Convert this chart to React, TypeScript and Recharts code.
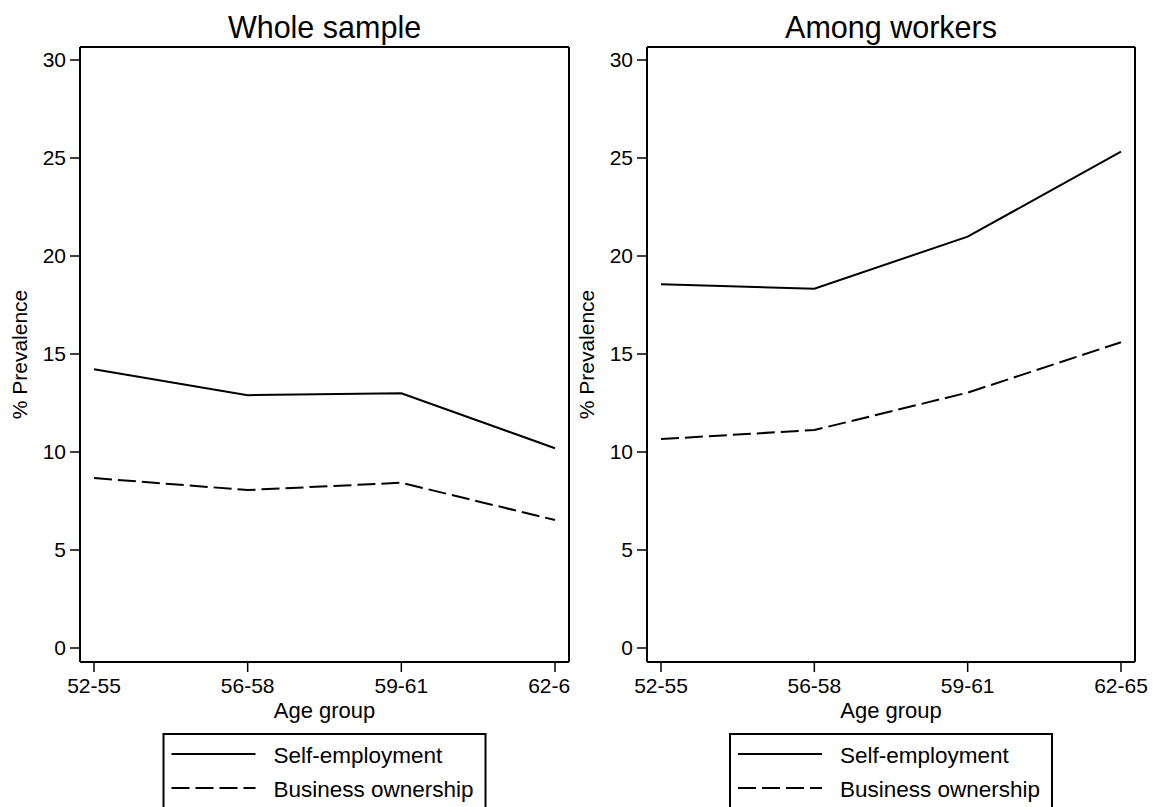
import React from 'react';
import { LineChart, Line, XAxis, YAxis } from 'recharts';

const ageGroups = ['52-55', '56-58', '59-61', '62-65'];
const wholeSelfEmployment = [14.22, 12.9, 13.0, 10.19];
const wholeBusinessOwnership = [8.67, 8.06, 8.43, 6.53];
const workersSelfEmployment = [18.56, 18.33, 20.99, 25.32];
const workersBusinessOwnership = [10.66, 11.12, 13.03, 15.6];
const yTicks = [0, 5, 10, 15, 20, 25, 30];
const seriesNames = ['Self-employment', 'Business ownership'];

const FONT = '"Liberation Sans", Arial, sans-serif';
const DASH = '18 6';

const buildRows = (selfEmp: number[], bizOwn: number[]) =>
  ageGroups.map((g, i) => ({ age: g, selfEmp: selfEmp[i], bizOwn: bizOwn[i] }));

interface PanelProps {
  title: string;
  rows: { age: string; selfEmp: number; bizOwn: number }[];
  left: number;
  clipWidth: number;
  chartWidth: number;
  rightMargin: number;
}

const Panel: React.FC<PanelProps> = ({ title, rows, left, clipWidth, chartWidth, rightMargin }) => {
  // plot area spans x 80 .. chartWidth - rightMargin
  const plotCenter = (80 + chartWidth - rightMargin) / 2;
  return (
    <div style={{ position: 'absolute', left, top: 0, width: clipWidth, height: 807, overflow: 'hidden' }}>
      <svg width={clipWidth} height={50} style={{ position: 'absolute', left: 0, top: 0 }}>
        <text x={plotCenter} y={38} textAnchor="middle" fontFamily={FONT} fontSize={30.5} fill="#000">
          {title}
        </text>
      </svg>
      <div style={{ position: 'absolute', left: 0, top: 0 }}>
        <LineChart
          width={chartWidth}
          height={740}
          data={rows}
          margin={{ top: 46, right: rightMargin - 1, left: 0, bottom: 0 }}
          style={{ fontFamily: FONT }}
        >
          <XAxis
            dataKey="age"
            height={78}
            padding={{ left: 14, right: 14 }}
            tickSize={10}
            tickMargin={6}
            tick={{ fill: '#000', fontSize: 21 }}
            axisLine={{ stroke: '#000', strokeWidth: 2 }}
            tickLine={{ stroke: '#000', strokeWidth: 1.5 }}
            interval={0}
            label={({ viewBox }: any) => (
              <text
                x={viewBox.x + viewBox.width / 2}
                y={viewBox.y + 56}
                textAnchor="middle"
                fontSize={22}
                fontFamily={FONT}
                fill="#000"
              >
                Age group
              </text>
            )}
          />
          <XAxis
            xAxisId="top"
            dataKey="age"
            orientation="top"
            height={1}
            tick={false}
            tickLine={false}
            padding={{ left: 14, right: 14 }}
            axisLine={{ stroke: '#000', strokeWidth: 2 }}
          />
          <YAxis
            width={80}
            domain={[0, 30]}
            ticks={yTicks}
            padding={{ top: 13, bottom: 14 }}
            tickSize={10}
            tickMargin={4}
            tick={{ fill: '#000', fontSize: 21 }}
            axisLine={{ stroke: '#000', strokeWidth: 2 }}
            tickLine={{ stroke: '#000', strokeWidth: 1.5 }}
            label={({ viewBox }: any) => {
              const cy = viewBox.y + viewBox.height / 2;
              return (
                <text
                  x={viewBox.x + 27}
                  y={cy}
                  transform={`rotate(-90 ${viewBox.x + 27} ${cy})`}
                  textAnchor="middle"
                  fontSize={21}
                  fontFamily={FONT}
                  fill="#000"
                >
                  % Prevalence
                </text>
              );
            }}
          />
          <YAxis
            yAxisId="right"
            orientation="right"
            width={1}
            domain={[0, 30]}
            tick={false}
            tickLine={false}
            axisLine={{ stroke: '#000', strokeWidth: 2 }}
          />
          <Line
            dataKey="selfEmp"
            stroke="#000"
            strokeWidth={2}
            dot={false}
            activeDot={false}
            isAnimationActive={false}
          />
          <Line
            dataKey="bizOwn"
            stroke="#000"
            strokeWidth={2}
            strokeDasharray={DASH}
            dot={false}
            activeDot={false}
            isAnimationActive={false}
          />
        </LineChart>
      </div>
      {/* legend box, centred under the plot */}
      <svg width={clipWidth} height={807} style={{ position: 'absolute', left: 0, top: 0, pointerEvents: 'none' }}>
        <rect x={plotCenter - 161} y={734} width={322} height={100} fill="none" stroke="#000" strokeWidth={2} />
        {seriesNames.map((name, i) => (
          <g key={name}>
            <line
              x1={plotCenter - 153}
              x2={plotCenter - 69}
              y1={754 + i * 34}
              y2={754 + i * 34}
              stroke="#000"
              strokeWidth={2}
              strokeDasharray={i === 1 ? DASH : undefined}
            />
            <text x={plotCenter - 51} y={763 + i * 34} fontSize={22.5} fontFamily={FONT} fill="#000">
              {name}
            </text>
          </g>
        ))}
      </svg>
    </div>
  );
};

const App: React.FC = () => {
  return (
    <div style={{ position: 'absolute', left: 0, top: 0, width: 1157, height: 807, background: '#fff', overflow: 'hidden' }}>
      <Panel
        title="Whole sample"
        rows={buildRows(wholeSelfEmployment, wholeBusinessOwnership)}
        left={0}
        clipWidth={571}
        chartWidth={600}
        rightMargin={31}
      />
      <Panel
        title="Among workers"
        rows={buildRows(workersSelfEmployment, workersBusinessOwnership)}
        left={567}
        clipWidth={590}
        chartWidth={590}
        rightMargin={22}
      />
    </div>
  );
};

export default App;
